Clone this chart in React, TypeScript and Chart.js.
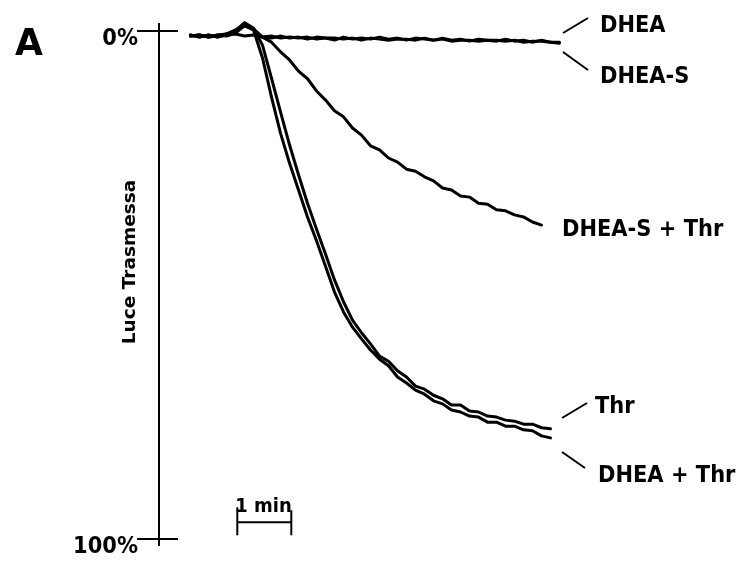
import React, { useEffect, useRef } from "react";
import { Chart, registerables } from "chart.js";

Chart.register(...registerables);

// Time in seconds from the start of the recording
const timeSec = [
  0, 10, 20, 30, 40, 50, 60, 70, 80, 90,
  100, 110, 120, 130, 140, 150, 160, 170, 180, 190,
  200, 210, 220, 230, 240, 250, 260, 270, 280, 290,
  300, 310, 320, 330, 340, 350, 360, 370, 380, 390,
  400, 410,
];

// Light transmission (%) — 0% at top, 100% at bottom
const dhea = [
  0.8, 1.2, 0.8, 1.2, 0.8, 0.6, 1.0, 0.8, 1.2, 1.4,
  1.0, 1.4, 1.2, 1.6, 1.2, 1.4, 1.8, 1.2, 1.6, 1.4,
  1.6, 1.2, 1.6, 1.4, 1.8, 1.4, 1.6, 1.8, 1.4, 1.8,
  1.6, 2.0, 1.6, 1.8, 2.0, 1.6, 2.0, 1.8, 2.2, 1.8,
  2.2, 2.2,
];
const dheaS = [
  1.0, 0.8, 1.2, 1.0, 0.6, 0.0, -1.6, -0.4, 1.2, 1.0,
  1.4, 1.2, 1.4, 1.2, 1.6, 1.4, 1.4, 1.6, 1.4, 1.8,
  1.4, 1.6, 1.8, 1.6, 1.6, 1.8, 1.4, 1.8, 1.6, 2.0,
  1.8, 1.8, 2.0, 1.8, 1.8, 2.0, 1.8, 2.2, 2.0, 2.0,
  2.2, 2.4,
];
const dheaSThr = [
  1.0, 0.8, 1.2, 0.8, 1.0, 0.4, -1.0, -0.2, 1.2, 2.2,
  4.1, 5.7, 7.9, 9.4, 11.8, 13.6, 15.7, 16.9, 19.1, 20.5,
  22.6, 23.4, 25.0, 25.8, 27.2, 27.6, 28.7, 29.5, 30.9, 31.3,
  32.5, 32.7, 33.9, 34.1, 35.2, 35.4, 36.2, 36.6, 37.6, 38.2,
];
const thr = [
  1.0, 0.8, 1.2, 0.8, 0.6, 0.0, -1.6, -0.6, 2.8, 9.3,
  15.9, 22.4, 28.3, 33.9, 39.0, 43.9, 49.0, 53.3, 56.9, 59.4,
  61.6, 64.0, 65.0, 66.9, 68.1, 69.9, 70.5, 71.7, 72.4, 73.6,
  73.6, 74.8, 75.0, 75.8, 76.0, 76.6, 76.8, 77.4, 77.4, 78.1,
  78.3,
];
const dheaThr = [
  0.8, 1.2, 0.8, 1.2, 0.6, -0.2, -1.4, -0.2, 5.3, 13.0,
  20.1, 26.0, 31.3, 36.6, 41.3, 46.3, 51.4, 55.3, 58.3, 60.6,
  62.8, 64.6, 65.9, 68.1, 69.3, 70.7, 71.5, 72.8, 73.4, 74.6,
  75.0, 75.8, 76.0, 77.0, 77.0, 77.8, 77.8, 78.5, 78.7, 79.7,
  80.1,
];

const seriesNames = ["DHEA", "DHEA-S", "DHEA-S + Thr", "Thr", "DHEA + Thr"];
const yTickValues = [0, 100];
const yTickLabels = ["0%", "100%"];
const yAxisTitle = "Luce Trasmessa";
const panelLetter = "A";
const scaleBarStartSec = 52;
const scaleBarLengthSec = 60;
const scaleBarLabel = "1 min";

// Label placement (layout only)
const labelLayout = [
  { x: 600, y: 23, line: [563, 33, 588, 18] },
  { x: 600, y: 74, line: [563, 52, 588, 70] },
  { x: 562, y: 227, line: null as number[] | null },
  { x: 595, y: 404, line: [562, 418, 587, 403] },
  { x: 598, y: 473, line: [562, 452, 585, 468] },
];

const FONT = '"DejaVu Sans", Verdana, sans-serif';

function stretchedText(
  ctx: CanvasRenderingContext2D,
  text: string,
  x: number,
  centerY: number,
  size: number,
  stretch: number
) {
  ctx.save();
  ctx.translate(x, centerY);
  ctx.scale(1, stretch);
  ctx.font = `bold ${size}px ${FONT}`;
  ctx.textBaseline = "alphabetic";
  ctx.fillText(text, 0, 0.365 * size);
  ctx.restore();
}

const overlay = {
  id: "overlay",
  afterDraw(chart: any) {
    const ctx: CanvasRenderingContext2D = chart.ctx;
    const xs = chart.scales.x;
    const ys = chart.scales.y;
    const axisX = chart.chartArea.left;
    ctx.save();
    ctx.strokeStyle = "#000";
    ctx.fillStyle = "#000";
    ctx.lineCap = "butt";

    // y axis line
    ctx.lineWidth = 2;
    ctx.beginPath();
    ctx.moveTo(axisX, ys.getPixelForValue(yTickValues[0]) - 8);
    ctx.lineTo(axisX, ys.getPixelForValue(yTickValues[1]) + 7);
    ctx.stroke();

    // ticks and tick labels
    ctx.textAlign = "right";
    yTickValues.forEach((v, i) => {
      const py = ys.getPixelForValue(v);
      ctx.beginPath();
      ctx.moveTo(axisX - 22, py);
      ctx.lineTo(axisX + 19, py);
      ctx.stroke();
      stretchedText(ctx, yTickLabels[i], axisX - 21, py + 6, 21, 1.1);
    });

    // y axis title
    ctx.save();
    ctx.translate(135, 262);
    ctx.rotate(-Math.PI / 2);
    ctx.font = `bold 18.5px ${FONT}`;
    ctx.textAlign = "center";
    ctx.textBaseline = "alphabetic";
    ctx.fillText(yAxisTitle, 0, 0);
    ctx.restore();

    // panel letter
    ctx.textAlign = "left";
    stretchedText(ctx, panelLetter, 15, 41.5, 36, 1.04);

    // scale bar
    const sx0 = xs.getPixelForValue(scaleBarStartSec);
    const sx1 = xs.getPixelForValue(scaleBarStartSec + scaleBarLengthSec);
    const sy = ys.getPixelForValue(96.7);
    ctx.lineWidth = 2;
    ctx.beginPath();
    ctx.moveTo(sx0, sy - 15);
    ctx.lineTo(sx0, sy + 13);
    ctx.moveTo(sx0, sy);
    ctx.lineTo(sx1, sy);
    ctx.moveTo(sx1, sy - 12);
    ctx.lineTo(sx1, sy + 13);
    ctx.stroke();
    stretchedText(ctx, scaleBarLabel, sx0 - 2, sy - 17, 18, 1.08);

    // series labels
    ctx.lineWidth = 2;
    labelLayout.forEach((l, i) => {
      if (l.line) {
        ctx.beginPath();
        ctx.moveTo(l.line[0], l.line[1]);
        ctx.lineTo(l.line[2], l.line[3]);
        ctx.stroke();
      }
      stretchedText(ctx, seriesNames[i], l.x, l.y, 21, 1.12);
    });
    ctx.restore();
  },
};

export default function App() {
  const ref = useRef<HTMLCanvasElement>(null);
  useEffect(() => {
    const canvas = ref.current!;
    const mk = (vals: number[]) => vals.map((v, i) => ({ x: timeSec[i], y: v }));
    const all = [dhea, dheaS, dheaSThr, thr, dheaThr];
    const chart = new Chart(canvas, {
      type: "line",
      data: {
        datasets: all.map((vals, i) => ({
          label: seriesNames[i],
          data: mk(vals),
          borderColor: "#000",
          borderWidth: 3,
          pointRadius: 0,
          tension: 0,
          borderJoinStyle: "round",
          borderCapStyle: "round",
          fill: false,
          clip: false,
        })) as any,
      },
      options: {
        animation: false,
        responsive: false,
        maintainAspectRatio: false,
        events: [],
        layout: { padding: { left: 159, right: 146, top: 31, bottom: 22 } },
        plugins: {
          legend: { display: false },
          tooltip: { enabled: false },
          title: { display: false },
        },
        scales: {
          x: { type: "linear", min: -35, max: 445, display: false },
          y: { type: "linear", min: 0, max: 100, reverse: true, display: false },
        },
      },
      plugins: [overlay],
    });
    return () => chart.destroy();
  }, []);
  return (
    <div
      style={{
        position: "absolute",
        left: 0,
        top: 0,
        width: 737,
        height: 561,
        background: "#fff",
      }}
    >
      <canvas ref={ref} width={737} height={561} style={{ display: "block", width: 737, height: 561 }} />
    </div>
  );
}
